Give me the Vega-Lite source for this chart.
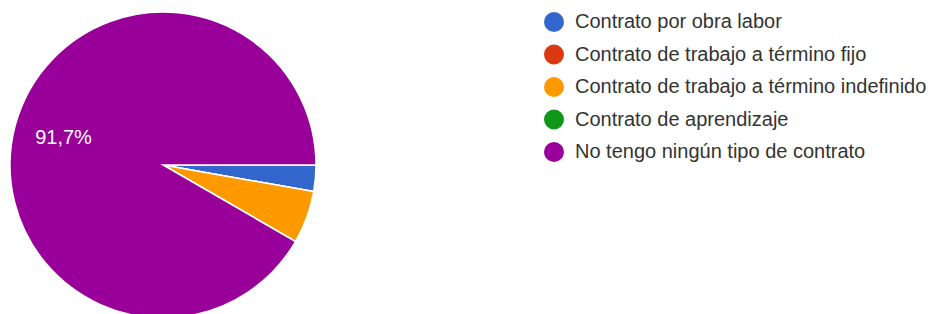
{
  "$schema": "https://vega.github.io/schema/vega-lite/v6.json",
  "autosize": "none",
  "width": 326,
  "height": 298,
  "padding": {"left": 0, "top": 16, "right": 612, "bottom": 0},
  "background": "white",
  "config": {"view": {"stroke": null}, "font": "Liberation Sans"},
  "data": {
    "values": [
      {"tipo": "Contrato por obra labor", "n": 1, "orden": 1, "etiqueta": ""},
      {"tipo": "Contrato de trabajo a término fijo", "n": 0, "orden": 2, "etiqueta": ""},
      {"tipo": "Contrato de trabajo a término indefinido", "n": 2, "orden": 3, "etiqueta": ""},
      {"tipo": "Contrato de aprendizaje", "n": 0, "orden": 4, "etiqueta": ""},
      {"tipo": "No tengo ningún tipo de contrato", "n": 33, "orden": 5, "etiqueta": "91,7%"}
    ]
  },
  "encoding": {
    "theta": {"field": "n", "type": "quantitative", "stack": true, "scale": {"range": [1.5707963, 7.8539816]}},
    "order": {"field": "orden", "type": "quantitative", "sort": "ascending"},
    "color": {
      "field": "tipo",
      "type": "nominal",
      "scale": {
        "domain": ["Contrato por obra labor", "Contrato de trabajo a término fijo", "Contrato de trabajo a término indefinido", "Contrato de aprendizaje", "No tengo ningún tipo de contrato"],
        "range": ["#3366cc", "#dc3912", "#ff9900", "#109618", "#990099"]
      },
      "legend": {
        "orient": "none",
        "legendX": 544,
        "legendY": -4,
        "title": null,
        "symbolType": "circle",
        "symbolSize": 400,
        "symbolStrokeWidth": 0,
        "symbolOpacity": 1,
        "labelFont": "Liberation Sans",
        "labelFontSize": 20,
        "labelColor": "#333333",
        "labelOffset": 11,
        "labelLimit": 500,
        "rowPadding": 12.5,
        "padding": 0
      }
    }
  },
  "layer": [
    {
      "mark": {"type": "arc", "outerRadius": 153, "stroke": "white", "strokeWidth": 1.5}
    },
    {
      "mark": {"type": "text", "radius": 103, "font": "Liberation Sans", "fontSize": 20, "fill": "white", "align": "center", "baseline": "middle"},
      "encoding": {
        "text": {"field": "etiqueta", "type": "nominal"},
        "color": {"value": "white"}
      }
    }
  ]
}
